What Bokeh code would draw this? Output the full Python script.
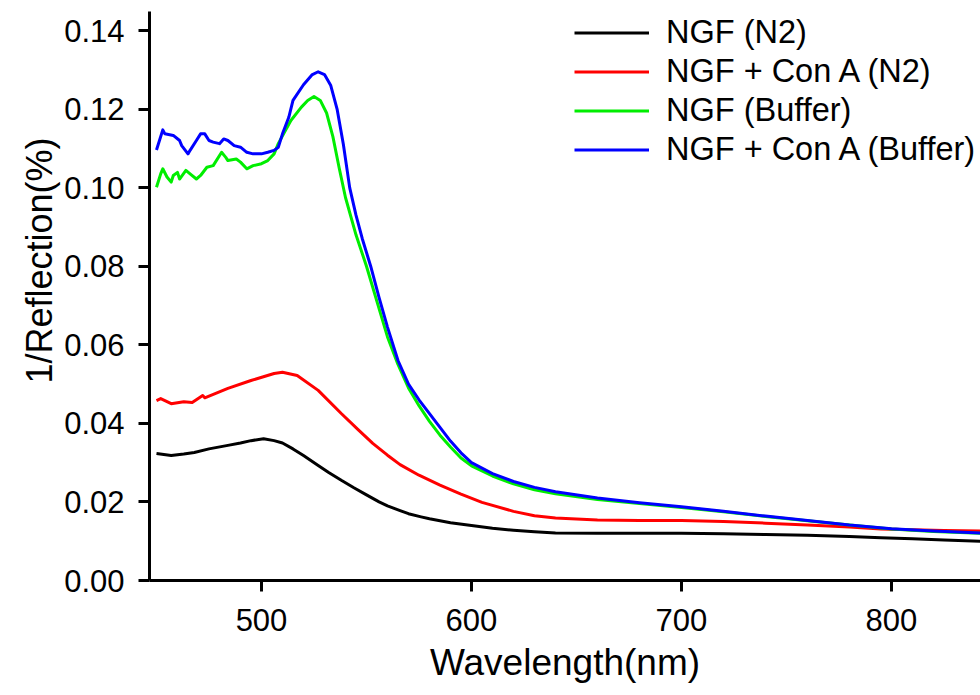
from bokeh.plotting import figure
from bokeh.models import Range1d, FixedTicker, PrintfTickFormatter, Legend, LegendItem, Title
from bokeh.embed import file_html
from bokeh.resources import INLINE

# ---- data ----
ngf_n2_wl = [450, 457, 463, 468, 475, 484, 490, 495, 501, 506, 510, 515, 520, 527, 532, 538,
             544, 550, 556, 560, 566, 570, 576, 580, 590, 600, 610, 620, 630, 640, 660, 680,
             700, 720, 740, 760, 780, 795, 810, 825, 843]
ngf_n2 = [0.0323, 0.0318, 0.0322, 0.0326, 0.0335, 0.0344, 0.0350, 0.0356, 0.0361, 0.0356, 0.0350,
          0.0335, 0.0318, 0.0293, 0.0275, 0.0255, 0.0236, 0.0218, 0.0200, 0.0190, 0.0178, 0.0170,
          0.0162, 0.0157, 0.0147, 0.0140, 0.0133, 0.0128, 0.0124, 0.0121, 0.0120, 0.0120, 0.0120,
          0.0119, 0.0117, 0.0115, 0.0112, 0.0109, 0.0106, 0.0103, 0.0100]

ngfcon_n2_wl = [450, 452, 457, 463, 467, 472, 473, 484, 495, 506, 510, 517, 527, 538, 546, 553,
                560, 566, 575, 585, 595, 605, 620, 630, 640, 660, 680, 700, 720, 740, 760, 780,
                795, 810, 825, 843]
ngfcon_n2 = [0.0458, 0.0463, 0.0450, 0.0455, 0.0453, 0.0471, 0.0465, 0.0489, 0.0509, 0.0527, 0.0530,
             0.0522, 0.0484, 0.0425, 0.0384, 0.0349, 0.0319, 0.0295, 0.0268, 0.0243, 0.0220, 0.0199,
             0.0176, 0.0165, 0.0159, 0.0154, 0.0153, 0.0153, 0.0150, 0.0146, 0.0141, 0.0136,
             0.0131, 0.0129, 0.0127, 0.0126]

ngf_buf_wl = [450, 452, 453, 455, 457, 458, 460, 461, 464, 466, 469, 471, 474, 477, 481, 483, 484,
              488, 490, 493, 496, 500, 503, 506, 508, 514, 519, 522, 525, 528, 531, 534, 537, 540,
              545, 550, 555, 560, 565, 570, 575, 580, 585, 590, 595, 600, 610, 620, 630, 640, 660,
              680, 700, 720, 740, 760, 780, 800, 820, 843]
ngf_buf = [0.1001, 0.1035, 0.1048, 0.1027, 0.1014, 0.1031, 0.1039, 0.1022, 0.1044, 0.1035, 0.1022,
           0.1031, 0.1052, 0.1056, 0.1090, 0.1077, 0.1069, 0.1073, 0.1065, 0.1048, 0.1056, 0.1061,
           0.1069, 0.1086, 0.1112, 0.1171, 0.1205, 0.1222, 0.1232, 0.1222, 0.1190, 0.1130, 0.1050,
           0.0975, 0.0880, 0.0800, 0.0710, 0.0620, 0.0550, 0.0490, 0.0445, 0.0405, 0.0370, 0.0340,
           0.0312, 0.0292, 0.0266, 0.0246, 0.0231, 0.0221, 0.0206, 0.0196, 0.0186, 0.0175, 0.0163,
           0.0152, 0.0141, 0.0131, 0.0125, 0.0120]

ngfcon_buf_wl = [450, 453, 454, 458, 461, 462, 465, 466, 469, 471, 473, 475, 477, 480, 482, 484,
                 487, 490, 493, 496, 500, 503, 506, 508, 510, 513, 515, 520, 524, 527, 530, 533,
                 536, 539, 542, 545, 548, 552, 556, 560, 565, 570, 575, 580, 585, 590, 595, 600,
                 610, 620, 630, 640, 660, 680, 700, 720, 740, 760, 780, 800, 820, 843]
ngfcon_buf = [0.1096, 0.1147, 0.1137, 0.1133, 0.1120, 0.1107, 0.1086, 0.1095, 0.1120, 0.1137, 0.1137,
              0.1120, 0.1116, 0.1112, 0.1124, 0.1120, 0.1107, 0.1103, 0.1090, 0.1086, 0.1086, 0.1090,
              0.1095, 0.1103, 0.1137, 0.1179, 0.1222, 0.1262, 0.1287, 0.1295, 0.1288, 0.1260, 0.1200,
              0.1110, 0.1000, 0.0930, 0.0870, 0.0800, 0.0720, 0.0645, 0.0560, 0.0500, 0.0460, 0.0425,
              0.0390, 0.0355, 0.0325, 0.0300, 0.0272, 0.0252, 0.0237, 0.0226, 0.0210, 0.0198, 0.0188,
              0.0176, 0.0164, 0.0153, 0.0141, 0.0132, 0.0126, 0.0121]

series_names = ["NGF (N2)", "NGF + Con A (N2)", "NGF (Buffer)", "NGF + Con A (Buffer)"]
series_colors = ["#000000", "#ff0000", "#00ee00", "#0000ff"]

x_ticks = [500, 600, 700, 800]
y_ticks = [0.00, 0.02, 0.04, 0.06, 0.08, 0.10, 0.12, 0.14]
x_title = "Wavelength(nm)"
y_title = "1/Reflection(%)"

FONT = "Liberation Sans"

p = figure(width=980, height=695, output_backend="svg", toolbar_location=None,
           x_range=Range1d(446.67, 842.4), y_range=Range1d(0, 0.14484),
           min_border_left=149, min_border_right=0, min_border_top=11, min_border_bottom=115)
p.outline_line_color = None
p.grid.visible = False
p.background_fill_color = "white"

renderers = []
for wl, vals, col in zip([ngf_n2_wl, ngfcon_n2_wl, ngf_buf_wl, ngfcon_buf_wl],
                         [ngf_n2, ngfcon_n2, ngf_buf, ngfcon_buf], series_colors):
    r = p.line(wl, vals, line_color=col, line_width=3, line_join="round")
    renderers.append(r)

for ax in (p.xaxis[0], p.yaxis[0]):
    ax.axis_line_width = 3
    ax.axis_line_color = "black"
    ax.major_tick_line_width = 3
    ax.major_tick_line_color = "black"
    ax.major_tick_out = 11
    ax.major_tick_in = 0
    ax.minor_tick_line_color = None
    ax.major_label_text_font = FONT
    ax.major_label_text_font_size = "31px"
    ax.major_label_text_color = "black"
    ax.axis_label_text_font = FONT
    ax.axis_label_text_font_style = "normal"
    ax.axis_label_text_color = "black"

p.xaxis.ticker = FixedTicker(ticks=x_ticks)
p.yaxis.ticker = FixedTicker(ticks=y_ticks)
p.yaxis.formatter = PrintfTickFormatter(format="%.2f")
p.xaxis.major_label_standoff = 17
p.yaxis.major_label_standoff = 14
p.xaxis.axis_label = x_title
p.xaxis.axis_label_text_font_size = "37px"
p.xaxis.axis_label_standoff = 8

# y-axis title placed as in the reference (above the frame's centre)
ytitle = Title(text=y_title, align="left", offset=197, standoff=4,
               text_font=FONT, text_font_size="36px", text_font_style="normal",
               text_color="black")
p.add_layout(ytitle, "left")

legend = Legend(items=[LegendItem(label=n, renderers=[r]) for n, r in zip(series_names, renderers)],
                location=(425, 411), padding=0, margin=0, spacing=0,
                glyph_width=75, glyph_height=39, label_height=39, label_standoff=17,
                label_text_font=FONT, label_text_font_size="32.5px", label_text_color="black",
                border_line_color=None, background_fill_alpha=0)
p.add_layout(legend)

open("out.html", "w").write(file_html(p, INLINE))
